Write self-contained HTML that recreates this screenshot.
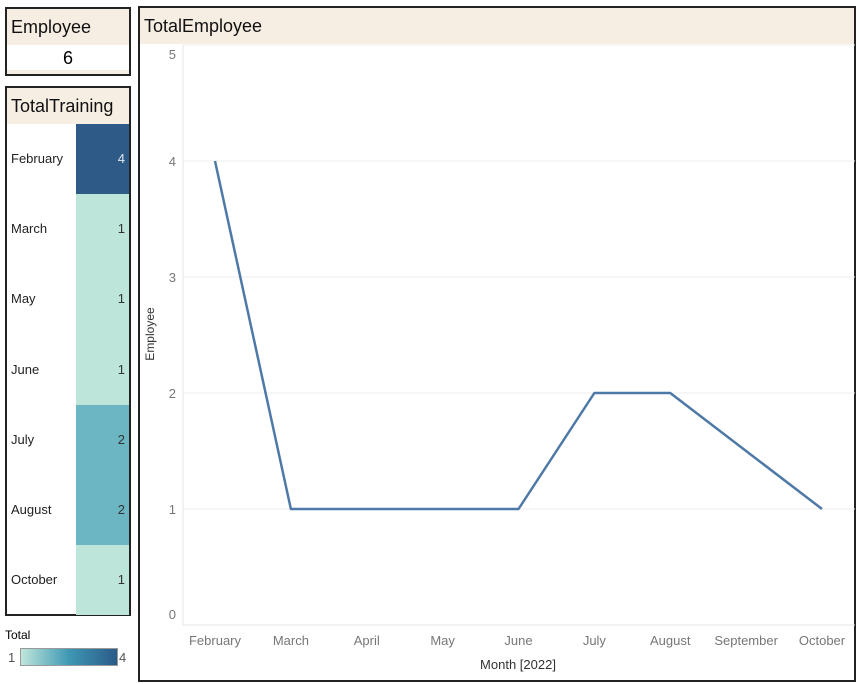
<!DOCTYPE html>
<html><head><meta charset="utf-8"><style>
body{margin:0;width:859px;height:684px;background:#fff;font-family:"Liberation Sans","DejaVu Sans",sans-serif;position:relative;overflow:hidden}
.box{position:absolute;border:2px solid #222;box-sizing:border-box;background:#fff}
.hdr{position:absolute;left:0;right:0;top:0;height:36px;background:#f6ede3;font-size:18px;color:#111;line-height:36px;padding-left:4px}
</style></head><body>
<div class="box" style="left:5px;top:7px;width:126px;height:69px">
 <div class="hdr">Employee</div>
 <div style="position:absolute;top:36px;left:0;right:0;height:26px;text-align:center;font-size:18px;line-height:26px">6</div>
 <div style="position:absolute;bottom:0;left:0;right:0;height:4px;background:#f6ede3"></div>
</div>
<div class="box" style="left:5px;top:86px;width:126px;height:530px">
 <div class="hdr">TotalTraining</div>
 <div id="rows"></div>
</div>
<div style="position:absolute;left:5px;top:628px;width:130px;height:40px;font-size:12px">
 <div style="position:absolute;top:0;left:0">Total</div>
 <div style="position:absolute;top:22px;left:3px;font-size:13px;color:#555">1</div>
 <div style="position:absolute;top:20px;left:15px;width:96px;height:16px;border:1px solid #999;background:linear-gradient(to right,#bfe6da,#3e98b4,#2b5a88)"></div>
 <div style="position:absolute;top:22px;left:114px;font-size:13px;color:#555">4</div>
</div>
<div class="box" style="left:138px;top:6px;width:718px;height:676px">
 <div class="hdr">TotalEmployee</div>
</div>
<svg id="chart" width="859" height="684" style="position:absolute;left:0;top:0"></svg>
<script>
const months=["February","March","April","May","June","July","August","September","October"];
const lineMonths=["February","March","May","June","July","August","October"];
const employees=[4,1,1,1,2,2,1];
const yTicks=[0,1,2,3,4,5];
const trainMonths=["February","March","May","June","July","August","October"];
const trainValues=[4,1,1,1,2,2,1];
const NS="http://www.w3.org/2000/svg";
const svg=document.getElementById('chart');
const x0=215,x1=822,yBase=625,yTop=45;
function xs(m){return x0+months.indexOf(m)*(x1-x0)/(months.length-1);}
function ys(v){return yBase-(v/5)*(yBase-yTop);}
function mk(t,a,p){const e=document.createElementNS(NS,t);for(const k in a)e.setAttribute(k,a[k]);(p||svg).appendChild(e);return e;}
yTicks.forEach(v=>{
 if(v>0){const g=mk('line',{x1:183,x2:855,y1:ys(v),y2:ys(v),stroke:'#eeeeee','stroke-width':1});
 
 }
 let ty=ys(v)+5; if(v===0)ty=ys(v)-6; if(v===5)ty=ys(v)+14;
 const t=mk('text',{x:176,y:ty,'text-anchor':'end','font-size':13,fill:'#777','font-family':'Liberation Sans,sans-serif'});
 t.textContent=v;
 
 
});
const ax=mk('line',{x1:183,x2:183,y1:45,y2:625,stroke:'#e6e6e6'});


const bx=mk('line',{x1:183,x2:855,y1:625,y2:625,stroke:'#e6e6e6'});


months.forEach(m=>{
 const t=mk('text',{x:xs(m),y:645,'text-anchor':'middle','font-size':13,fill:'#777','font-family':'Liberation Sans,sans-serif'});
 t.textContent=m;
 
 
});
const xt=mk('text',{x:518,y:669,'text-anchor':'middle','font-size':13,fill:'#333','font-family':'Liberation Sans,sans-serif'});
xt.textContent='Month [2022]';


const yt=mk('text',{x:0,y:0,'text-anchor':'middle','font-size':12,fill:'#333','font-family':'Liberation Sans,sans-serif',transform:'translate(154,334) rotate(-90)'});
yt.textContent='Employee';


const pts=lineMonths.map((m,i)=>xs(m)+','+ys(employees[i])).join(' ');
const pl=mk('polyline',{points:pts,fill:'none',stroke:'#4e79a7','stroke-width':2.5,'stroke-linejoin':'round'});


// training table
const rows=document.getElementById('rows');
const colors={1:'#bde5da',2:'#6cb6c3',3:'#4a8fb0',4:'#2d5a87'};
const rowH=70.2;
trainMonths.forEach((m,i)=>{
 const r=document.createElement('div');
 
 
 r.style.cssText='position:absolute;left:0;right:0;top:'+(36+i*rowH)+'px;height:'+rowH+'px';
 const l=document.createElement('div');
 l.style.cssText='position:absolute;left:4px;top:0;line-height:'+rowH+'px;font-size:13px;color:#222';
 l.textContent=m;
 
 
 const c=document.createElement('div');
 const v=trainValues[i];
 c.style.cssText='position:absolute;left:69px;right:0;top:0;height:100%;background:'+colors[v]+';text-align:right;padding-right:4px;box-sizing:border-box;line-height:'+rowH+'px;font-size:13px;color:'+(v>=3?'#dfe6ee':'#333');
 c.textContent=v;
 
 
 r.appendChild(l);r.appendChild(c);rows.appendChild(r);
});
</script>
</body></html>
